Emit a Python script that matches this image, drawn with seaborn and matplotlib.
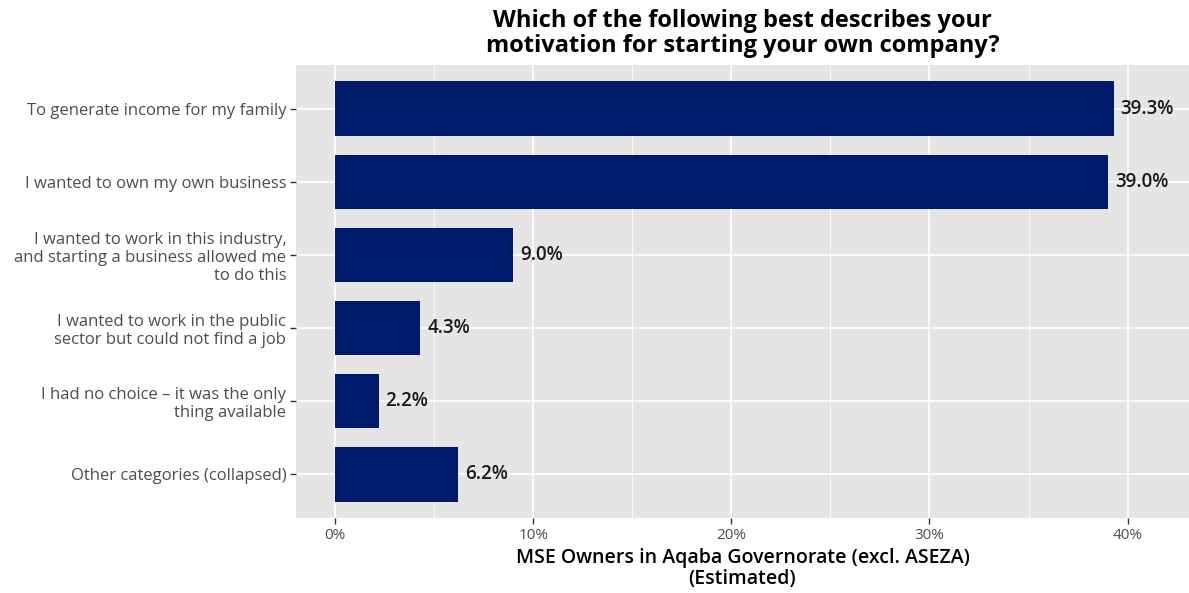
import matplotlib
matplotlib.use("Agg")
import matplotlib.pyplot as plt
from matplotlib.ticker import MultipleLocator, FuncFormatter
import seaborn as sns
import pandas as pd

categories = [
    "To generate income for my family",
    "I wanted to own my own business",
    "I wanted to work in this industry,\nand starting a business allowed me\nto do this",
    "I wanted to work in the public\nsector but could not find a job",
    "I had no choice \u2013 it was the only\nthing available",
    "Other categories (collapsed)",
]
shares = [39.3, 39.0, 9.0, 4.3, 2.2, 6.2]

title = "Which of the following best describes your\nmotivation for starting your own company?"
x_title = "MSE Owners in Aqaba Governorate (excl. ASEZA)\n(Estimated)"

df = pd.DataFrame({"category": categories, "share": shares})

sns.set_theme(style="darkgrid", rc={
    "axes.facecolor": "#E5E5E5",
    "grid.color": "white",
    "axes.edgecolor": "none",
    "xtick.bottom": True,
    "ytick.left": True,
})
plt.rcParams["font.family"] = ["Open Sans", "DejaVu Sans"]

fig = plt.figure(figsize=(11.89, 5.93), dpi=100)
ax = fig.add_axes([296 / 1189, 1 - 518 / 593, (1189 - 296) / 1189, (518 - 65) / 593])

sns.barplot(data=df, x="share", y="category", orient="h", color="#001A6B",
            saturation=1, width=0.75, ax=ax, order=categories,
            edgecolor="#001A6B", linewidth=0)

ax.set_xlim(-1.97, 43.1)
ax.set_ylim(len(categories) - 0.4, -0.6)
ax.xaxis.set_major_locator(MultipleLocator(10))
ax.xaxis.set_minor_locator(MultipleLocator(5))
ax.xaxis.set_major_formatter(FuncFormatter(lambda v, p: f"{v:.0f}%"))
ax.grid(which="major", axis="both", color="white", linewidth=1.2)
ax.grid(which="minor", axis="x", color="white", linewidth=0.6)
ax.set_axisbelow(True)

for i, v in enumerate(shares):
    ax.text(v + 0.35, i, f"{v:.1f}%", va="center", ha="left",
            fontsize=13.5, fontweight="semibold", color="#1a1a1a")

ax.tick_params(axis="both", which="major", length=4, width=1, color="#333333",
               labelcolor="#4D4D4D", labelsize=11, pad=3)
ax.tick_params(axis="y", labelsize=12)
ax.tick_params(axis="x", which="minor", length=0)
for lbl in ax.get_yticklabels():
    lbl.set_horizontalalignment("right")
    lbl.set_multialignment("right")
    lbl.set_linespacing(1.15)
ax.set_ylabel("")
ax.set_xlabel(x_title, fontsize=14, color="black", fontweight="semibold",
              labelpad=4, linespacing=1.05)
ax.set_title(title, fontsize=17, fontweight="bold", color="black", pad=9,
             linespacing=1.1)

fig.savefig("out.png", dpi=100)
